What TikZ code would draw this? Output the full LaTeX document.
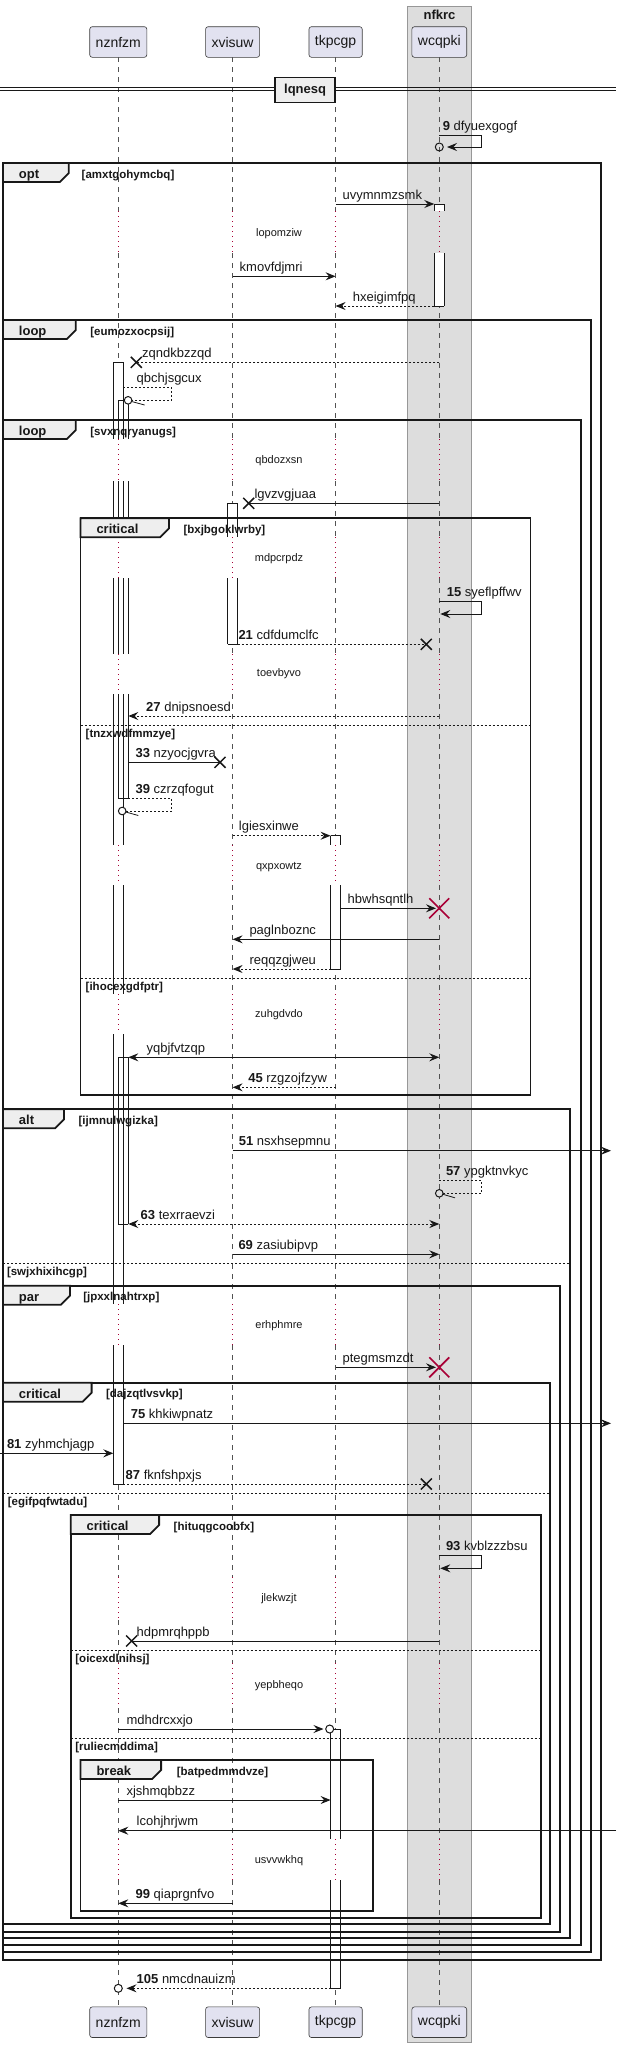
\documentclass[tikz,border=0pt]{standalone}
\usepackage{fontspec}
\setmainfont{Liberation Sans}
\usetikzlibrary{arrows.meta}
\definecolor{pfill}{HTML}{E2E2F0}
\definecolor{ink}{HTML}{181818}
\definecolor{boxgrey}{HTML}{DDDDDD}
\definecolor{tabgrey}{HTML}{EEEEEE}
\definecolor{crim}{HTML}{A80036}
\tikzset{
 every node/.style={inner sep=0pt, outer sep=0pt},
 msgf/.style={font=\fontsize{13}{15}\selectfont},
 lbl/.style={msgf, anchor=base west, text=ink},
 delayf/.style={font=\fontsize{11}{13}\selectfont, text=ink},
 condf/.style={font=\fontsize{11.5}{13}\selectfont\bfseries, text=ink, anchor=base west},
 tabf/.style={font=\fontsize{13}{15}\selectfont\bfseries, text=ink, anchor=base west},
 part/.style={draw=ink!85, fill=pfill, rounded corners=2.5pt, minimum height=30.6pt, inner xsep=6pt, font=\fontsize{14}{16}\selectfont, text=ink, line width=0.6pt},
 lifeline/.style={ink!75, line width=0.6pt, dash pattern=on 5pt off 5pt},
 delayline/.style={crim, line width=0.9pt, dash pattern=on 1pt off 4pt},
 actline/.style={ink, line width=1pt},
 frameline/.style={ink, line width=1.8pt},
 sepst/.style={ink, line width=1pt, dash pattern=on 2pt off 2pt},
 tip/.style={-{Stealth[length=10pt,width=8pt,inset=3.5pt]}},
 arr/.style={ink, line width=1pt, tip},
 darr/.style={arr, dash pattern=on 2pt off 2pt},
 biarr/.style={ink, line width=1pt, {Stealth[length=10pt,width=8pt,inset=3.5pt]}-{Stealth[length=10pt,width=8pt,inset=3.5pt]}},
 dbiarr/.style={biarr, dash pattern=on 2pt off 2pt},
 plain/.style={ink, line width=1pt},
 dplain/.style={plain, dash pattern=on 2pt off 2pt},
 xmark/.style={ink, line width=1.5pt},
 redx/.style={crim, line width=1.6pt},
}
\newcommand\msg[5]{\coordinate (#1s) at (#2,#4); \coordinate (#1e) at (#3,#4); \draw[#5] (#1s) -- (#1e);}
\newcommand\mlab[4]{\node[lbl] (#1) at (#2,#3-5) {#4};}
\newcommand\lostx[3]{\coordinate (#1) at (#2,#3); \draw[xmark] ([shift={(-5.5,-5.5)}]#1) -- ([shift={(5.5,5.5)}]#1) ([shift={(-5.5,5.5)}]#1) -- ([shift={(5.5,-5.5)}]#1);}
\newcommand\killx[3]{\coordinate (#1) at (#2,#3); \draw[redx] ([shift={(-10,-10)}]#1) -- ([shift={(10,10)}]#1) ([shift={(-10,10)}]#1) -- ([shift={(10,-10)}]#1);}
\newcommand\frm[9]{%
 \draw[frameline] (#2,#3) rectangle (#4,#5);
 \draw[frameline, fill=tabgrey] (#2,#3) -- (#6,#3) -- (#6,#3+10) -- (#6-9,#3+19) -- (#2,#3+19) -- cycle;
 \node[tabf] (#1t) at (#2+16,#3+15.5) {#7};
 \node[condf] (#1c) at (#9,#3+15) {#8};}
\newcommand\sep[6]{\draw[sepst] (#3,#2) -- (#4,#2); \node[condf] (#1) at (#6,#2+12.5) {#5};}
\newcommand\dly[3]{\node[delayf] (#1) at (279,#2) {#3};}
\newcommand\actlist{%
 \actA{439.3}{204}{211}{1}{0}\actA{439.3}{253}{306}{0}{1}%
 \actA{118.3}{362.3}{439}{1}{0}\actA{118.3}{481}{537}{0}{0}\actA{118.3}{578}{654}{0}{0}%
 \actA{118.3}{694}{845}{0}{0}\actA{118.3}{885}{994}{0}{0}\actA{118.3}{1034}{1304}{0}{0}%
 \actA{118.3}{1345}{1484}{0}{1}%
 \actA{123.3}{400.3}{439}{1}{0}\actA{123.3}{481}{537}{0}{0}\actA{123.3}{578}{654}{0}{0}%
 \actA{123.3}{694}{798.3}{0}{1}%
 \actA{232.6}{503.3}{537}{1}{0}\actA{232.6}{578}{644.3}{0}{1}%
 \actA{335.6}{835.7}{845}{1}{0}\actA{335.6}{885}{969}{0}{1}%
 \actA{123.3}{1057.3}{1224}{1}{1}%
 \actA{335.6}{1729}{1839}{1}{0}\actA{335.6}{1880}{1988.3}{0}{1}}
\begin{document}
\begin{tikzpicture}[x=1pt,y=-1pt]
\useasboundingbox (0,0) rectangle (616,2048);
% group box
\draw[ink!45, line width=0.8pt, fill=boxgrey] (407.5,6) rectangle (471.5,2042.7);
\node[font=\fontsize{13}{15}\selectfont\bfseries, text=ink] (grp) at (439.5,15) {nfkrc};
% lifelines
\foreach \x in {118.3,232.6,335.6,439.3}{
 \foreach \a/\b in {57.3/211,253/439,481/537,578/654,694/845,885/994,1034/1304,1345/1577,1620/1663,1708/1839,1880/2006}{\draw[lifeline] (\x,\a) -- (\x,\b);}
 \foreach \a/\b in {211/253,439/481,537/578,654/694,845/885,994/1034,1304/1345,1577/1620,1663/1708,1839/1880}{\draw[delayline] (\x,\a) -- (\x,\b);}
}
% activations
\def\actA#1#2#3#4#5{\fill[white] (#1-5,#2) rectangle (#1+5,#3);}
\actlist
\def\actA#1#2#3#4#5{\draw[actline] (#1-5,#2) -- (#1-5,#3) (#1+5,#2) -- (#1+5,#3);
 \ifnum#4=1 \draw[actline] (#1-5,#2) -- (#1+5,#2);\fi
 \ifnum#5=1 \draw[actline] (#1-5,#3) -- (#1+5,#3);\fi}
\actlist
% frames
\frm{fa}{3}{163}{601.2}{1960}{68.8}{opt}{[amxtgohymcbq]}{81.7}
\frm{fb}{3}{320}{590.6}{1951.7}{75.8}{loop}{[eumozxocpsij]}{90.4}
\frm{fc}{3}{420}{580.7}{1945}{75.8}{loop}{[svxnqryanugs]}{90.4}
\frm{fd}{80.5}{518.3}{530.5}{1095}{169}{critical}{[bxjbgoklwrby]}{183.5}
\sep{sd1}{725}{80.5}{530.5}{[tnzxwdfmmzye]}{85.7}
\sep{sd2}{978.3}{80.5}{530.5}{[ihocexgdfptr]}{85.7}
\frm{fe}{3}{1109.3}{569.7}{1938.3}{64}{alt}{[ijmnulwgizka]}{78.6}
\sep{se1}{1263.3}{3}{569.7}{[swjxhixihcgp]}{7}
\frm{ff}{3}{1285.7}{559.9}{1931.7}{70}{par}{[jpxxlnahtrxp]}{83.3}
\frm{fg}{3}{1382.7}{550.1}{1924.3}{91.6}{critical}{[dajzqtlvsvkp]}{106.1}
\sep{sg1}{1493.3}{3}{550.1}{[egifpqfwtadu]}{7.9}
\frm{fh}{70.7}{1515}{540.7}{1917.7}{159.1}{critical}{[hituqgcoobfx]}{173.7}
\sep{sh1}{1650}{70.7}{540.7}{[oicexdlnihsj]}{75.4}
\sep{sh2}{1738.3}{70.7}{540.7}{[ruliecmddima]}{75.4}
\frm{fi}{80.5}{1760}{373.3}{1911.3}{161.1}{break}{[batpedmmdvze]}{176.8}
% divider
\draw[ink, line width=1pt] (0,87.7) -- (616,87.7) (0,90.7) -- (616,90.7);
\node[draw=ink, line width=1.5pt, fill=tabgrey, minimum width=60.2pt, minimum height=25pt, font=\fontsize{13}{15}\selectfont\bfseries, text=ink] (div) at (305.1,90.2) {lqnesq};
% participants
\node[part] (p1t) at (118.3,42) {nznfzm};
\node[part] (p2t) at (232.6,42) {xvisuw};
\node[part] (p3t) at (335.6,42) {tkpcgp};
\node[part] (p4t) at (439.3,42) {wcqpki};
\node[part] (p1b) at (118.3,2022.2) {nznfzm};
\node[part] (p2b) at (232.6,2022.2) {xvisuw};
\node[part] (p3b) at (335.6,2022.2) {tkpcgp};
\node[part] (p4b) at (439.3,2022.2) {wcqpki};
% messages
\coordinate (s9a) at (439.3,135.3); \coordinate (s9b) at (447,147); \coordinate (c9) at (439.3,147);
\draw[arr] (s9a) -- (481.3,135.3) -- (481.3,147) -- (s9b);
\draw[ink, line width=1pt] (c9) circle (4);
\mlab{l9}{442.8}{135.3}{\textbf{9} dfyuexgogf}
\msg{m1}{335.6}{434.3}{204}{arr}\mlab{l1}{342.6}{204}{uvymnmzsmk}
\dly{d1}{234}{lopomziw}
\msg{m2}{232.6}{335.6}{276.3}{arr}\mlab{l2}{239.7}{276.3}{kmovfdjmri}
\msg{m3}{434.3}{335.6}{306}{darr}\mlab{l3}{352.8}{306}{hxeigimfpq}
\msg{m4}{439.3}{136.3}{362.3}{dplain}\lostx{x4}{136.3}{362.3}\mlab{l4}{142.2}{362.3}{zqndkbzzqd}
\coordinate (s5a) at (123.3,387.3); \coordinate (c5) at (128.1,400.3);
\draw[dplain] (s5a) -- (171.7,387.3) -- (171.7,400.3) -- (c5);
\draw[ink, line width=1pt, fill=white] (c5) circle (3.8);
\draw[ink, line width=0.8pt] (131.6,401.5) -- (144.6,405);
\mlab{l5}{136.7}{387.3}{qbchjsgcux}
\dly{d2}{461}{qbdozxsn}
\msg{m6}{439.3}{248.7}{503.3}{plain}\lostx{x6}{248.7}{503.3}\mlab{l6}{254.6}{503.3}{lgvzvgjuaa}
\dly{d3}{558.3}{mdpcrpdz}
\coordinate (s7a) at (439.3,601); \coordinate (s7b) at (440.3,614);
\draw[arr] (s7a) -- (481.3,601) -- (481.3,614) -- (s7b);
\mlab{l7}{446.8}{601}{\textbf{15} syeflpffwv}
\msg{m8}{237.6}{426.3}{644.3}{dplain}\lostx{x8}{426.3}{644.3}\mlab{l8}{238.5}{644.3}{\textbf{21} cdfdumclfc}
\dly{d4}{674}{toevbyvo}
\msg{m9}{439.3}{128.3}{716}{darr}\mlab{l9b}{146.2}{716}{\textbf{27} dnipsnoesd}
\msg{m10}{128.3}{220}{762.3}{plain}\lostx{x10}{220}{762.3}\mlab{l10}{135.6}{762.3}{\textbf{33} nzyocjgvra}
\coordinate (s11a) at (128.3,798.3); \coordinate (c11) at (122.2,811);
\draw[dplain] (s11a) -- (171.7,798.3) -- (171.7,811) -- (c11);
\draw[ink, line width=1pt, fill=white] (c11) circle (3.8);
\draw[ink, line width=0.8pt] (125.8,812) -- (138.3,815.5);
\mlab{l11}{135.6}{798.3}{\textbf{39} czrzqfogut}
\msg{m12}{232.6}{330.6}{835.7}{darr}\mlab{l12}{238.9}{835.7}{lgiesxinwe}
\dly{d5}{866.7}{qxpxowtz}
\msg{m13}{340.6}{436}{908.3}{arr}\killx{x13}{439.3}{908.3}\mlab{l13}{347.7}{908.3}{hbwhsqntlh}
\msg{m14}{439.3}{232.6}{939.3}{arr}\mlab{l14}{249.5}{939.3}{paglnboznc}
\msg{m15}{330.6}{232.6}{969}{darr}\mlab{l15}{249.5}{969}{reqqzgjweu}
\dly{d6}{1015}{zuhgdvdo}
\msg{m16}{128.3}{439.3}{1057.3}{biarr}\mlab{l16}{146.6}{1057.3}{yqbjfvtzqp}
\msg{m17}{335.6}{232.6}{1087.3}{darr}\mlab{l17}{248.3}{1087.3}{\textbf{45} rzgzojfzyw}
\msg{m18}{232.6}{611}{1150.7}{arr}\mlab{l18}{238.9}{1150.7}{\textbf{51} nsxhsepmnu}
\coordinate (s19a) at (439.3,1180); \coordinate (c19) at (439.3,1193.3);
\draw[dplain] (s19a) -- (481.3,1180) -- (481.3,1193.3) -- (c19);
\draw[ink, line width=1pt, fill=boxgrey] (c19) circle (3.8);
\draw[ink, line width=0.8pt] (443,1194.3) -- (455,1197.8);
\mlab{l19}{446}{1180}{\textbf{57} ypgktnvkyc}
\msg{m20}{128.3}{439.3}{1224}{dbiarr}\mlab{l20}{140.7}{1224}{\textbf{63} texrraevzi}
\msg{m21}{232.6}{439.3}{1254.3}{arr}\mlab{l21}{238.5}{1254.3}{\textbf{69} zasiubipvp}
\dly{d7}{1325.7}{erhphmre}
\msg{m22}{335.6}{436}{1367.3}{arr}\killx{x22}{439.3}{1367.3}\mlab{l22}{342.6}{1367.3}{ptegmsmzdt}
\msg{m23}{123.3}{611}{1423.3}{arr}\mlab{l23}{130.8}{1423.3}{\textbf{75} khkiwpnatz}
\msg{m24}{0}{113.3}{1453.3}{arr}\mlab{l24}{7}{1453.3}{\textbf{81} zyhmchjagp}
\msg{m25}{123.3}{426.3}{1484}{dplain}\lostx{x25}{426.3}{1484}\mlab{l25}{125.7}{1484}{\textbf{87} fknfshpxjs}
\coordinate (s26a) at (439.3,1555); \coordinate (s26b) at (440.3,1568.3);
\draw[arr] (s26a) -- (481.3,1555) -- (481.3,1568.3) -- (s26b);
\mlab{l26}{446}{1555}{\textbf{93} kvblzzzbsu}
\dly{d8}{1598.3}{jlekwzjt}
\msg{m27}{439.3}{131.6}{1641}{plain}\lostx{x27}{131.6}{1641}\mlab{l27}{136.7}{1641}{hdpmrqhppb}
\dly{d9}{1686}{yepbheqo}
\msg{m28}{118.3}{323.5}{1729}{arr}\coordinate (c28) at (329.7,1729);
\draw[ink, line width=1pt, fill=white] (c28) circle (4);
\mlab{l28}{126.5}{1729}{mdhdrcxxjo}
\msg{m29}{118.3}{330.6}{1800}{arr}\mlab{l29}{126.5}{1800}{xjshmqbbzz}
\msg{m30}{616}{118.3}{1830.7}{arr}\mlab{l30}{136.7}{1830.7}{lcohjhrjwm}
\dly{d10}{1860.7}{usvvwkhq}
\msg{m31}{232.6}{118.3}{1903.3}{arr}\mlab{l31}{135.6}{1903.3}{\textbf{99} qiaprgnfvo}
\msg{m32}{330.6}{126.5}{1988.3}{darr}\coordinate (c32) at (118.3,1988.3);
\draw[ink, line width=1pt, fill=white] (c32) circle (4);
\mlab{l32}{136.7}{1988.3}{\textbf{105} nmcdnauizm}
\end{tikzpicture}
\end{document}
